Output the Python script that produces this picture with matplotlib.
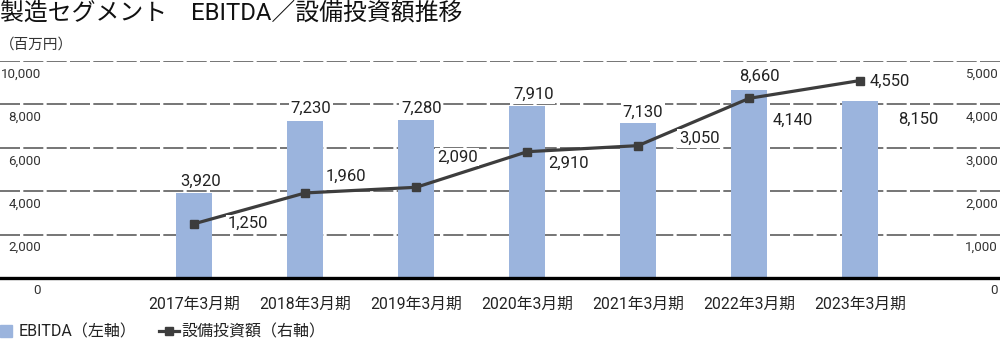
import matplotlib
matplotlib.use("Agg")
import matplotlib.pyplot as plt
from matplotlib.lines import Line2D
import matplotlib.transforms as mtransforms

plt.rcParams['font.family'] = ['Roboto', 'Noto Sans CJK JP']

# ---- data ----
periods = ["2017年3月期", "2018年3月期", "2019年3月期", "2020年3月期",
           "2021年3月期", "2022年3月期", "2023年3月期"]
ebitda = [3920, 7230, 7280, 7910, 7130, 8660, 8150]          # left axis
capex = [1250, 1960, 2090, 2910, 3050, 4140, 4550]           # right axis
left_ticks = [0, 2000, 4000, 6000, 8000, 10000]
right_ticks = [0, 1000, 2000, 3000, 4000, 5000]

title = "製造セグメント　EBITDA／設備投資額推移"
unit = "（百万円）"
legend_labels = ["EBITDA（左軸）", "設備投資額（右軸）"]

# ---- styling ----
bar_color = "#9BB4DD"
line_color = "#3d3d3d"
grid_color = "#5e5e5e"

# label offsets in pixels relative to each bar top / line point
bar_label_offsets = [(6, 12), (6, 13), (5, 12), (6, 12), (5, 11), (10, 14), (58, -18)]
line_label_offsets = [(54, 0), (41, 17), (41, 30), (41, -12), (61, 7), (44, -22), (30, -1)]

W, H = 1000, 341
fig = plt.figure(figsize=(W / 100, H / 100), dpi=100)
ax = fig.add_axes([0, 63 / H, 1, 217 / H])
x = list(range(len(periods)))

ax.set_xlim(-1.75, 7.26)
ax.set_ylim(0, 10000)
ax.set_axisbelow(True)
ax.set_yticks(left_ticks)
ax.yaxis.grid(True, color=grid_color, linestyle=(0, (12, 2)), linewidth=1.2)
ax.tick_params(axis='y', length=0, labelleft=False)
for s in ["left", "right", "top"]:
    ax.spines[s].set_visible(False)
ax.spines["bottom"].set_linewidth(2.4)
ax.spines["bottom"].set_color("black")
ax.spines["bottom"].set_zorder(5)

ax.bar(x, ebitda, width=0.325, color=bar_color, zorder=2)
ax.set_xticks(x)
ax.set_xticklabels(periods, fontsize=11.3, color="#222222")
ax.tick_params(axis='x', length=0, pad=13.5)

ax2 = ax.twinx()
ax2.set_ylim(0, 5000)
ax2.set_yticks([])
for s in ["left", "right", "top", "bottom"]:
    ax2.spines[s].set_visible(False)
ax2.plot(x, capex, color=line_color, lw=2.3, marker='s', ms=6.2, zorder=4)

# axis value labels drawn just under each gridline
lt = mtransforms.blended_transform_factory(ax.transAxes, ax.transData)
for v in left_ticks:
    ax.annotate(f"{v:,}", xy=(0.041, v), xycoords=lt, xytext=(0, -13),
                textcoords='offset pixels', ha='right', va='center',
                fontsize=9.6, color="#333333")
rt = mtransforms.blended_transform_factory(ax2.transAxes, ax2.transData)
for v in right_ticks:
    ax2.annotate(f"{v:,}", xy=(0.998, v), xycoords=rt, xytext=(0, -13),
                 textcoords='offset pixels', ha='right', va='center',
                 fontsize=9.6, color="#333333")

box = dict(boxstyle="square,pad=0.1", fc="white", ec="none")
for xi, v, (dx, dy) in zip(x, ebitda, bar_label_offsets):
    ax.annotate(f"{v:,}", xy=(xi, v), xytext=(dx, dy), textcoords='offset pixels',
                ha='center', va='center', fontsize=12, color="#222222",
                bbox=box, zorder=3)
for xi, v, (dx, dy) in zip(x, capex, line_label_offsets):
    ax2.annotate(f"{v:,}", xy=(xi, v), xytext=(dx, dy), textcoords='offset pixels',
                 ha='center', va='center', fontsize=12, color="#222222",
                 bbox=box, zorder=5)

fig.text(0.0, 1 - 13 / H, title, ha='left', va='center', fontsize=17.2, color="#111111")
fig.text(0.0, 1 - 45 / H, unit, ha='left', va='center', fontsize=10.5, color="#333333")

handles = [
    Line2D([], [], ls='none', marker='s', ms=9, color=bar_color),
    Line2D([], [], color=line_color, lw=2.3, marker='s', ms=5.5),
]
fig.legend(handles, legend_labels, loc='center left', bbox_to_anchor=(-0.004, 1 - 332 / H),
           ncol=2, frameon=False, fontsize=11.5, handlelength=1.25, handletextpad=0.15,
           columnspacing=1.45, borderpad=0, borderaxespad=0, labelcolor="#222222")

fig.savefig("out.png", dpi=100)
